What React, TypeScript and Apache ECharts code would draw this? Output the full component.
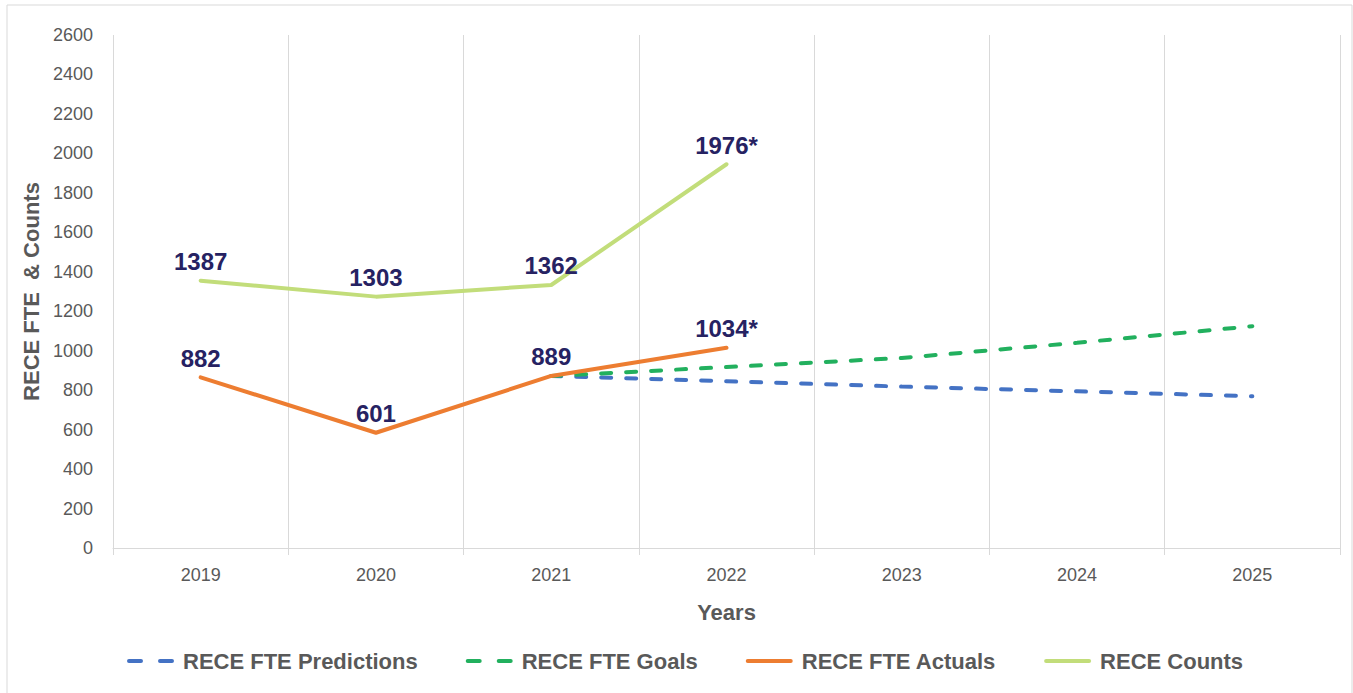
import React, { useEffect, useRef } from "react";
import * as echarts from "echarts";

const years = ["2019", "2020", "2021", "2022", "2023", "2024", "2025"];
const predictions = [null, null, 872, 845, 818, 794, 769];
const goals = [null, null, 872, 917, 963, 1040, 1124];
const actuals = [865, 584, 872, 1015, null, null, null];
const counts = [1355, 1274, 1333, 1945, null, null, null];
const actualLabels = ["882", "601", "889", "1034*"];
const countLabels = ["1387", "1303", "1362", "1976*"];
const yTicks = { min: 0, max: 2600, interval: 200 };

export default function App() {
  const ref = useRef<HTMLDivElement>(null);
  useEffect(() => {
    const chart = echarts.init(ref.current!, null, { renderer: "svg" });
    const font = "Arial, 'Liberation Sans', sans-serif";
    const gray = "#595959";
    const labelStyle = (arr: string[]) => ({
      show: true,
      position: "top" as const,
      distance: 7,
      fontFamily: font,
      fontSize: 24,
      fontWeight: "bold" as const,
      color: "#262262",
      formatter: (p: any) => arr[p.dataIndex] ?? "",
    });
    const dashLegend = { type: [12, 19], width: 4, cap: "round" };
    chart.setOption({
      animation: false,
      textStyle: { fontFamily: font },
      graphic: [
        {
          type: "rect",
          shape: { x: 7, y: 5, width: 1345, height: 700 },
          style: { fill: "none", stroke: "#d9d9d9", lineWidth: 1 },
          silent: true,
        },
      ],
      grid: { left: 113, right: 13, top: 35, bottom: 145 },
      legend: {
        left: 127,
        top: 650,
        padding: 0,
        itemWidth: 43,
        itemHeight: 14,
        itemGap: 48,
        itemStyle: { opacity: 0 },
        textStyle: { fontFamily: font, fontSize: 22, fontWeight: "bold", color: gray, padding: [0, 0, 0, 6] },
        data: [
          { name: "RECE FTE Predictions", lineStyle: { ...dashLegend, color: "#4472C4" } },
          { name: "RECE FTE Goals", lineStyle: { ...dashLegend, color: "#22B05E" } },
          { name: "RECE FTE Actuals", lineStyle: { width: 4, color: "#ED7D31", cap: "round" } },
          { name: "RECE Counts", lineStyle: { width: 4, color: "#C2DD7A", cap: "round" } },
        ],
      },
      xAxis: {
        type: "category",
        data: years,
        boundaryGap: true,
        name: "Years",
        nameLocation: "middle",
        nameGap: 53,
        nameTextStyle: { fontFamily: font, fontSize: 22, fontWeight: "bold", color: gray },
        axisLine: { lineStyle: { color: "#d9d9d9", width: 1 } },
        axisTick: { show: true, length: 7, lineStyle: { color: "#d9d9d9" } },
        axisLabel: { fontFamily: font, fontSize: 18, color: gray, margin: 18 },
        splitLine: { show: true, lineStyle: { color: "#d9d9d9", width: 1 } },
      },
      yAxis: {
        type: "value",
        min: yTicks.min,
        max: yTicks.max,
        interval: yTicks.interval,
        name: "RECE FTE  & Counts",
        nameLocation: "middle",
        nameGap: 69,
        nameTextStyle: { fontFamily: font, fontSize: 22, fontWeight: "bold", color: gray },
        axisLine: { show: false },
        axisTick: { show: false },
        axisLabel: { fontFamily: font, fontSize: 18, color: gray, margin: 20, formatter: (v: number) => String(v) },
        splitLine: { show: false },
      },
      series: [
        {
          name: "RECE FTE Predictions",
          type: "line",
          data: predictions,
          symbol: "circle",
          symbolSize: 0,
          lineStyle: { color: "#4472C4", width: 4, type: [10, 15], cap: "round" },
          itemStyle: { color: "#4472C4" },
        },
        {
          name: "RECE FTE Goals",
          type: "line",
          data: goals,
          symbol: "circle",
          symbolSize: 0,
          lineStyle: { color: "#22B05E", width: 4, type: [10, 15], cap: "round" },
          itemStyle: { color: "#22B05E" },
        },
        {
          name: "RECE FTE Actuals",
          type: "line",
          data: actuals,
          symbol: "circle",
          symbolSize: 0,
          lineStyle: { color: "#ED7D31", width: 4, cap: "round" },
          itemStyle: { color: "#ED7D31" },
          label: labelStyle(actualLabels),
        },
        {
          name: "RECE Counts",
          type: "line",
          data: counts,
          symbol: "circle",
          symbolSize: 0,
          lineStyle: { color: "#C2DD7A", width: 4, cap: "round" },
          itemStyle: { color: "#C2DD7A" },
          label: labelStyle(countLabels),
        },
      ],
    });
    return () => chart.dispose();
  }, []);
  return (
    <div
      ref={ref}
      style={{ position: "fixed", left: 0, top: 0, width: 1353, height: 693, background: "#fff" }}
    />
  );
}
